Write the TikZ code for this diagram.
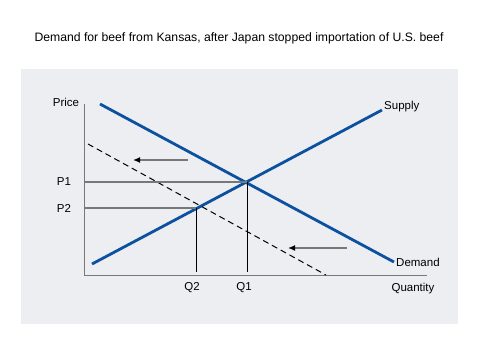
\documentclass[tikz,border=0pt]{standalone}
\usepackage{fontspec}
\setmainfont{Liberation Sans}
\usetikzlibrary{arrows.meta}
\definecolor{panelgray}{RGB}{236,238,242}
\definecolor{curveblue}{RGB}{12,80,160}
\definecolor{guidegray}{RGB}{120,120,120}
\begin{document}
\begin{tikzpicture}[x=1pt,y=-1pt,font=\fontsize{11.5}{13}\selectfont]
		\tikzstyle{every node}+=[inner sep=0pt]
		\tikzstyle{curve}=[curveblue,line width=2.8pt]
		\tikzstyle{guide}=[guidegray,line width=1.6pt]
		\tikzstyle{drop}=[black,line width=0.8pt]
		\tikzstyle{moveleft}=[guidegray,line width=1.6pt,-{Latex[black,length=7pt,width=6pt]}]
		\useasboundingbox (0,0) rectangle (479,360);
		\fill [panelgray] (21,69) rectangle (458,324);
		\draw (239,38) node [font=\fontsize{12.2}{14}\selectfont] {Demand for beef from Kansas, after Japan stopped importation of U.S. beef};
		% axes
		\coordinate (top) at (84,104);
		\coordinate (origin) at (84,275);
		\coordinate (right) at (427,275);
		\draw [guidegray,line width=1pt] (top) -- (origin) -- (right);
		\draw (66,102) node (price) {Price};
		\draw (413,289) node (quantity) {Quantity};
		% curves
		\coordinate (d1) at (100,104);
		\coordinate (d2) at (394,262);
		\coordinate (s1) at (92,264);
		\coordinate (s2) at (382,110);
		\coordinate (n1) at (88,144);
		\coordinate (n2) at (326,275);
		\draw [curve] (d1) -- (d2);
		\draw [curve] (s1) -- (s2);
		\draw [black,line width=1pt,dash pattern=on 6pt off 4pt] (n1) -- (n2);
		\draw (383,107) node [right=1pt] (supply) {Supply};
		\draw (395,262) node [right=1pt] (demand) {Demand};
		% equilibria
		\coordinate (e1) at (247,182);
		\coordinate (e2) at (196,208);
		\draw [guide] (origin |- e1) -- (e1);
		\draw [guide] (origin |- e2) -- (e2);
		\draw [drop] (e1) -- (247,272);
		\draw [drop] (e2) -- (196,272);
		\draw (64,182) node (p1) {P1};
		\draw (64,208) node (p2) {P2};
		\draw (192,288) node (q2) {Q2};
		\draw (244,288) node (q1) {Q1};
		% shifts
		\coordinate (a1) at (188,160);
		\coordinate (b1) at (133,160);
		\coordinate (a2) at (347,248);
		\coordinate (b2) at (288,248);
		\draw [moveleft] (a1) -- (b1);
		\draw [moveleft] (a2) -- (b2);
\end{tikzpicture}
\end{document}
